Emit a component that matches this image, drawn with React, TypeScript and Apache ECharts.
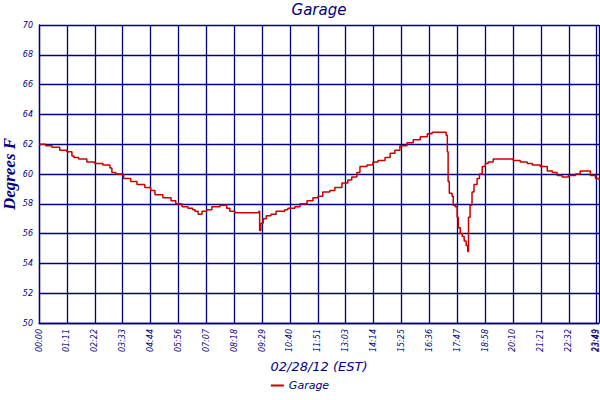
import React, { useEffect, useRef } from "react";
import * as echarts from "echarts";

const tickLabels = [
  "00:00", "01:11", "02:22", "03:33", "04:44", "05:56", "07:07", "08:18",
  "09:29", "10:40", "11:51", "13:03", "14:14", "15:25", "16:36", "17:47",
  "18:58", "20:10", "21:21", "22:32", "23:43", "23:49",
];
const tickStep = 71.148; // minutes between ticks
const xMax = 1429; // 23:49 in minutes

const times = [
  0, 17, 33, 53, 71, 84, 89, 101, 122, 142, 163, 181, 186, 196, 216, 234, 250,
  270, 285, 296, 316, 337, 349, 365, 380, 392, 398, 406, 416, 428, 441, 462,
  479, 487, 500, 525, 551, 561, 563, 566, 572, 580, 592, 605, 627, 635, 653,
  666, 684, 699, 712, 724, 742, 755, 773, 788, 798, 811, 819, 837, 852, 865,
  883, 896, 908, 921, 939, 955, 973, 991, 1003, 1037, 1039, 1042, 1044, 1047,
  1054, 1057, 1062, 1067, 1070, 1075, 1080, 1085, 1090, 1094, 1096, 1100, 1105,
  1110, 1118, 1124, 1131, 1139, 1146, 1159, 1195, 1210, 1228, 1246, 1259, 1279,
  1297, 1310, 1322, 1335, 1346, 1351, 1369, 1381, 1399, 1407, 1420, 1429,
];
const temps = [
  62.0, 61.9, 61.8, 61.6, 61.5, 61.2, 61.1, 61.0, 60.8, 60.7, 60.6, 60.4, 60.1,
  60.0, 59.7, 59.5, 59.3, 59.1, 58.9, 58.6, 58.4, 58.2, 58.0, 57.8, 57.7, 57.6,
  57.5, 57.3, 57.5, 57.6, 57.8, 57.9, 57.7, 57.5, 57.4, 57.4, 57.4, 57.5, 56.2,
  56.7, 57.0, 57.2, 57.3, 57.5, 57.6, 57.7, 57.8, 58.0, 58.2, 58.4, 58.5, 58.8,
  58.9, 59.1, 59.4, 59.6, 59.8, 60.1, 60.5, 60.6, 60.8, 60.9, 61.1, 61.4, 61.6,
  61.9, 62.1, 62.3, 62.5, 62.7, 62.8, 62.8, 62.6, 61.5, 59.5, 58.7, 58.5, 57.9,
  57.8, 57.1, 56.4, 56.0, 55.8, 55.5, 55.2, 54.8, 57.1, 57.9, 58.8, 59.3, 59.7,
  60.0, 60.5, 60.7, 60.8, 61.0, 61.0, 60.9, 60.8, 60.7, 60.6, 60.5, 60.2, 60.1,
  59.9, 59.8, 59.8, 59.9, 60.0, 60.2, 60.2, 59.9, 59.7, 59.6,
];

const NAVY = "#000080";
const FONT = "DejaVu Sans";

const labelStyle = {
  rotate: 90,
  margin: 6,
  color: NAVY,
  fontFamily: FONT,
  fontStyle: "italic",
  fontSize: 8,
  hideOverlap: false,
};

export default function App() {
  const ref = useRef<HTMLDivElement>(null);
  useEffect(() => {
    document.body.style.margin = "0";
    if (!ref.current) return;
    const chart = echarts.init(ref.current, undefined, { renderer: "svg" });
    const data = times.map((t, i) => [t, temps[i]]);
    const isMax = (v: number) => v >= xMax - 1e-6;
    chart.setOption({
      animation: false,
      backgroundColor: "#ffffff",
      title: {
        text: "Garage",
        left: 314,
        textAlign: "center",
        top: -3,
        textStyle: {
          color: NAVY,
          fontFamily: FONT,
          fontStyle: "italic",
          fontWeight: "normal",
          fontSize: 15,
        },
      },
      legend: {
        bottom: 4,
        left: "center",
        icon: "rect",
        itemWidth: 13,
        itemHeight: 2,
        itemGap: 4,
        textStyle: {
          color: NAVY,
          fontFamily: FONT,
          fontStyle: "italic",
          fontSize: 11,
        },
        data: ["Garage"],
      },
      grid: {
        left: 39,
        right: 1,
        top: 25,
        bottom: 77,
        containLabel: false,
        outerBoundsMode: "none",
      },
      xAxis: [
        {
          type: "value",
          position: "bottom",
          min: 0,
          max: xMax,
          interval: tickStep,
          name: "02/28/12 (EST)",
          nameLocation: "middle",
          nameGap: 37,
          nameMoveOverlap: false,
          nameTextStyle: {
            color: NAVY,
            fontFamily: FONT,
            fontStyle: "italic",
            fontSize: 13,
          },
          axisLine: { show: true, lineStyle: { color: NAVY, width: 1.3 } },
          axisTick: { show: false },
          splitLine: { show: true, lineStyle: { color: NAVY, width: 1.3 } },
          axisLabel: {
            ...labelStyle,
            showMinLabel: true,
            showMaxLabel: false,
            formatter: (v: number) =>
              isMax(v) ? "" : tickLabels[Math.round(v / tickStep)] ?? "",
          },
        },
        {
          type: "value",
          position: "bottom",
          offset: 0,
          min: 0,
          max: xMax,
          interval: tickStep,
          axisLine: { show: false },
          axisTick: { show: false },
          splitLine: { show: false },
          axisLabel: {
            ...labelStyle,
            verticalAlign: "bottom",
            showMinLabel: false,
            showMaxLabel: true,
            formatter: (v: number) =>
              isMax(v) ? tickLabels[tickLabels.length - 1] : "",
          },
        },
      ],
      yAxis: {
        type: "value",
        min: 50,
        max: 70,
        interval: 2,
        name: "Degrees F",
        nameLocation: "middle",
        nameGap: 21,
        nameMoveOverlap: false,
        nameTextStyle: {
          color: NAVY,
          fontFamily: "Liberation Serif",
          fontStyle: "italic",
          fontWeight: "bold",
          fontSize: 17,
        },
        axisLine: { show: true, lineStyle: { color: NAVY, width: 1.3 } },
        axisTick: { show: false },
        splitLine: { show: true, lineStyle: { color: NAVY, width: 1.3 } },
        axisLabel: {
          margin: 6,
          color: NAVY,
          fontFamily: FONT,
          fontStyle: "italic",
          fontSize: 8,
        },
      },
      series: [
        {
          name: "Garage",
          type: "line",
          step: "end",
          xAxisIndex: 0,
          data,
          showSymbol: false,
          symbol: "none",
          color: "#cc0000",
          lineStyle: { color: "#cc0000", width: 1.5 },
        },
      ],
    });
    return () => chart.dispose();
  }, []);
  return <div ref={ref} style={{ width: 600, height: 400 }} />;
}
